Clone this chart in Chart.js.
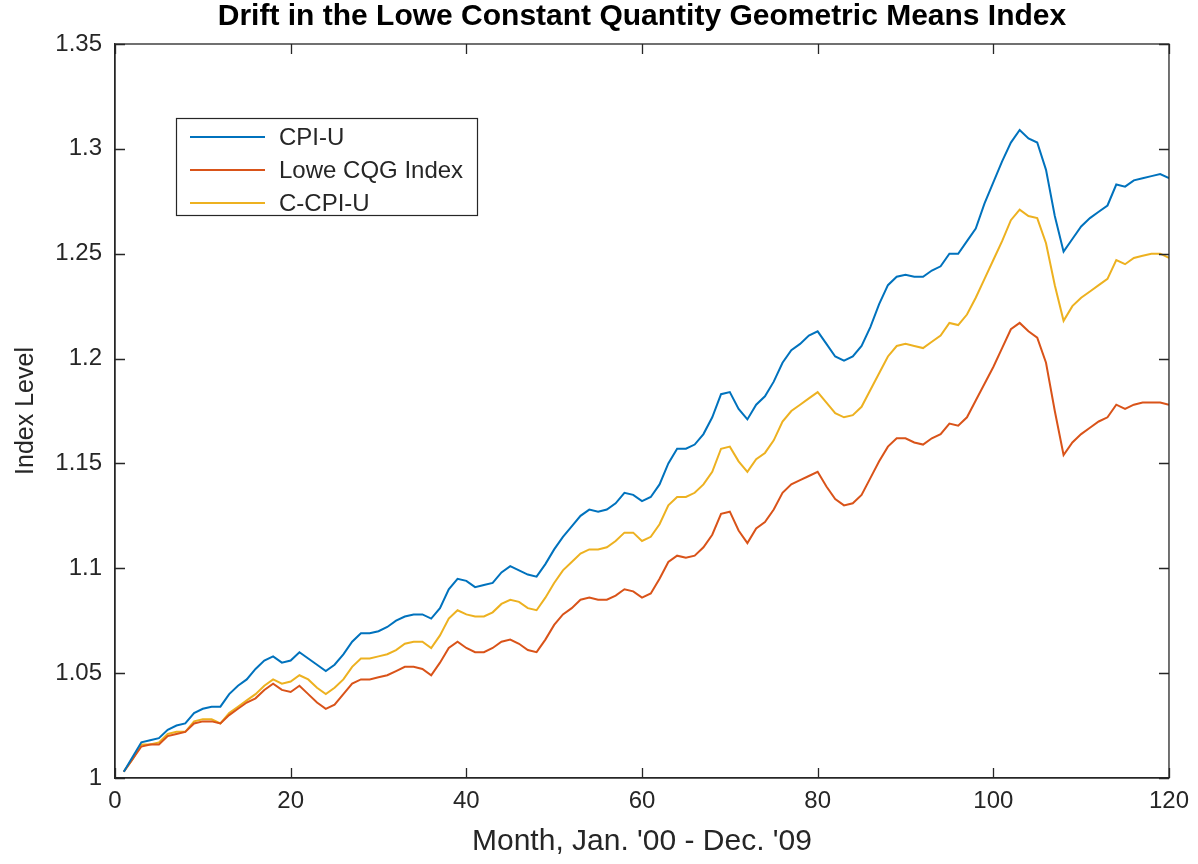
<!DOCTYPE html>
<html>
<head>
<meta charset="utf-8">
<script src="https://cdn.jsdelivr.net/npm/chart.js@4.4.1/dist/chart.umd.min.js"></script>
<style>
  html, body { margin: 0; padding: 0; background: #ffffff; }
  #wrap { width: 1198px; height: 864px; }
</style>
</head>
<body>
<div id="wrap"><canvas id="drift-chart" width="1198" height="864"></canvas></div>
<script>
// Monthly index levels, Jan 2000 .. Dec 2009 (month 1..120)
const months = Array.from({ length: 120 }, (_, i) => i + 1);

const cpiU = [
  1.003, 1.010, 1.017, 1.018, 1.019, 1.023, 1.025, 1.026, 1.031, 1.033,
  1.034, 1.034, 1.040, 1.044, 1.047, 1.052, 1.056, 1.058, 1.055, 1.056,
  1.060, 1.057, 1.054, 1.051, 1.054, 1.059, 1.065, 1.069, 1.069, 1.070,
  1.072, 1.075, 1.077, 1.078, 1.078, 1.076, 1.081, 1.090, 1.095, 1.094,
  1.091, 1.092, 1.093, 1.098, 1.101, 1.099, 1.097, 1.096, 1.102, 1.109,
  1.115, 1.120, 1.125, 1.128, 1.127, 1.128, 1.131, 1.136, 1.135, 1.132,
  1.134, 1.140, 1.150, 1.157, 1.157, 1.159, 1.164, 1.172, 1.183, 1.184,
  1.176, 1.171, 1.178, 1.182, 1.189, 1.198, 1.204, 1.207, 1.211, 1.213,
  1.207, 1.201, 1.199, 1.201, 1.206, 1.215, 1.226, 1.235, 1.239, 1.240,
  1.239, 1.239, 1.242, 1.244, 1.250, 1.250, 1.256, 1.262, 1.274, 1.284,
  1.294, 1.303, 1.309, 1.305, 1.303, 1.290, 1.268, 1.251, 1.257, 1.263,
  1.267, 1.270, 1.273, 1.283, 1.282, 1.285, 1.286, 1.287, 1.288, 1.286
];

const loweCQG = [
  1.003, 1.009, 1.015, 1.016, 1.016, 1.020, 1.021, 1.022, 1.026, 1.027,
  1.027, 1.026, 1.030, 1.033, 1.036, 1.038, 1.042, 1.045, 1.042, 1.041,
  1.044, 1.040, 1.036, 1.033, 1.035, 1.040, 1.045, 1.047, 1.047, 1.048,
  1.049, 1.051, 1.053, 1.053, 1.052, 1.049, 1.055, 1.062, 1.065, 1.062,
  1.060, 1.060, 1.062, 1.065, 1.066, 1.064, 1.061, 1.060, 1.066, 1.073,
  1.078, 1.081, 1.085, 1.086, 1.085, 1.085, 1.087, 1.090, 1.089, 1.086,
  1.088, 1.095, 1.103, 1.106, 1.105, 1.106, 1.110, 1.116, 1.126, 1.127,
  1.118, 1.112, 1.119, 1.122, 1.128, 1.136, 1.140, 1.142, 1.144, 1.146,
  1.139, 1.133, 1.130, 1.131, 1.135, 1.143, 1.151, 1.158, 1.162, 1.162,
  1.160, 1.159, 1.162, 1.164, 1.169, 1.168, 1.172, 1.180, 1.188, 1.196,
  1.205, 1.214, 1.217, 1.213, 1.210, 1.198, 1.175, 1.154, 1.160, 1.164,
  1.167, 1.170, 1.172, 1.178, 1.176, 1.178, 1.179, 1.179, 1.179, 1.178
];

const cCpiU = [
  1.003, 1.009, 1.016, 1.016, 1.017, 1.021, 1.022, 1.022, 1.027, 1.028,
  1.028, 1.026, 1.031, 1.034, 1.037, 1.040, 1.044, 1.047, 1.045, 1.046,
  1.049, 1.047, 1.043, 1.040, 1.043, 1.047, 1.053, 1.057, 1.057, 1.058,
  1.059, 1.061, 1.064, 1.065, 1.065, 1.062, 1.068, 1.076, 1.080, 1.078,
  1.077, 1.077, 1.079, 1.083, 1.085, 1.084, 1.081, 1.080, 1.086, 1.093,
  1.099, 1.103, 1.107, 1.109, 1.109, 1.110, 1.113, 1.117, 1.117, 1.113,
  1.115, 1.121, 1.130, 1.134, 1.134, 1.136, 1.140, 1.146, 1.157, 1.158,
  1.151, 1.146, 1.152, 1.155, 1.161, 1.170, 1.175, 1.178, 1.181, 1.184,
  1.179, 1.174, 1.172, 1.173, 1.177, 1.185, 1.193, 1.201, 1.206, 1.207,
  1.206, 1.205, 1.208, 1.211, 1.217, 1.216, 1.221, 1.229, 1.238, 1.247,
  1.256, 1.266, 1.271, 1.268, 1.267, 1.255, 1.235, 1.218, 1.225, 1.229,
  1.232, 1.235, 1.238, 1.247, 1.245, 1.248, 1.249, 1.250, 1.250, 1.248
];

const seriesNames = ['CPI-U', 'Lowe CQG Index', 'C-CPI-U'];
const xTicks = [0, 20, 40, 60, 80, 100, 120];
const yTicks = [1, 1.05, 1.1, 1.15, 1.2, 1.25, 1.3, 1.35];

const axisColor = '#262626';
const fontFamily = '"Liberation Sans", Arial, Helvetica, sans-serif';

function toPoints(values) {
  return values.map((v, i) => ({ x: months[i], y: v }));
}

// box, inward ticks, title and legend drawn MATLAB-style
const matlabFrame = {
  id: 'matlabFrame',
  afterDatasetsDraw(chart) {
    const { ctx, chartArea: a, scales } = chart;
    const xs = scales.x, ys = scales.y;
    ctx.save();
    ctx.strokeStyle = axisColor;
    ctx.lineWidth = 1.3;
    ctx.strokeRect(a.left, a.top, a.right - a.left, a.bottom - a.top);
    ctx.beginPath();
    xs.ticks.forEach(t => {
      const px = Math.round(xs.getPixelForValue(t.value)) + 0.5;
      ctx.moveTo(px, a.bottom); ctx.lineTo(px, a.bottom - 10);
      ctx.moveTo(px, a.top); ctx.lineTo(px, a.top + 10);
    });
    ys.ticks.forEach(t => {
      const py = Math.round(ys.getPixelForValue(t.value)) + 0.5;
      ctx.moveTo(a.left, py); ctx.lineTo(a.left + 10, py);
      ctx.moveTo(a.right, py); ctx.lineTo(a.right - 10, py);
    });
    ctx.stroke();

    // title
    ctx.fillStyle = '#000000';
    ctx.font = 'bold 30px ' + fontFamily;
    ctx.textAlign = 'center';
    ctx.textBaseline = 'middle';
    ctx.fillText('Drift in the Lowe Constant Quantity Geometric Means Index', (a.left + a.right) / 2, 17);

    // legend box
    const lx = 176, ly = 118, lw = 301, lh = 97;
    ctx.fillStyle = '#ffffff';
    ctx.fillRect(lx, ly, lw, lh);
    ctx.strokeStyle = axisColor;
    ctx.lineWidth = 1.2;
    ctx.strokeRect(lx + 0.5, ly + 0.5, lw, lh);
    ctx.font = '24px ' + fontFamily;
    ctx.textAlign = 'left';
    chart.data.datasets.forEach((ds, i) => {
      const cy = ly + 19 + i * 33;
      ctx.strokeStyle = ds.borderColor;
      ctx.lineWidth = 2;
      ctx.beginPath();
      ctx.moveTo(lx + 14, cy); ctx.lineTo(lx + 89, cy);
      ctx.stroke();
      ctx.fillStyle = axisColor;
      ctx.fillText(ds.label, lx + 103, cy + 1);
    });
    ctx.restore();
  }
};

const ctx = document.getElementById('drift-chart').getContext('2d');
const driftChart = new Chart(ctx, {
  type: 'line',
  data: {
    datasets: [
      { label: seriesNames[0], data: toPoints(cpiU), borderColor: '#0072BD' },
      { label: seriesNames[1], data: toPoints(loweCQG), borderColor: '#D95319' },
      { label: seriesNames[2], data: toPoints(cCpiU), borderColor: '#EDB120' }
    ]
  },
  options: {
    responsive: false,
    animation: false,
    devicePixelRatio: 1,
    layout: { padding: { top: 44, right: 28, left: 0, bottom: 0 } },
    elements: {
      line: { borderWidth: 2, tension: 0, fill: false },
      point: { radius: 0 }
    },
    plugins: {
      legend: { display: false },
      title: { display: false },
      tooltip: { enabled: false }
    },
    scales: {
      x: {
        type: 'linear',
        min: 0,
        max: 120,
        afterBuildTicks: scale => { scale.ticks = xTicks.map(v => ({ value: v })); },
        afterFit: scale => { scale.height = 86; },
        grid: { display: false, drawTicks: false, tickLength: 0 },
        border: { display: true, color: axisColor, width: 1.3 },
        ticks: { color: axisColor, font: { family: fontFamily, size: 24 }, padding: 9, maxRotation: 0 },
        title: {
          display: true,
          text: "Month, Jan. '00 - Dec. '09",
          color: axisColor,
          font: { family: fontFamily, size: 30 },
          padding: { top: 0, bottom: 4 }
        }
      },
      y: {
        min: 1,
        max: 1.35,
        afterBuildTicks: scale => { scale.ticks = yTicks.map(v => ({ value: v })); },
        afterFit: scale => { scale.width = 115; },
        grid: { display: false, drawTicks: false, tickLength: 0 },
        border: { display: true, color: axisColor, width: 1.3 },
        ticks: {
          color: axisColor,
          font: { family: fontFamily, size: 24 },
          padding: 13,
          callback: v => String(Number(v.toFixed(2)))
        },
        title: {
          display: true,
          text: 'Index Level',
          color: axisColor,
          font: { family: fontFamily, size: 25 },
          padding: { top: 11, bottom: 0 }
        }
      }
    }
  },
  plugins: [matlabFrame]
});
</script>
</body>
</html>
